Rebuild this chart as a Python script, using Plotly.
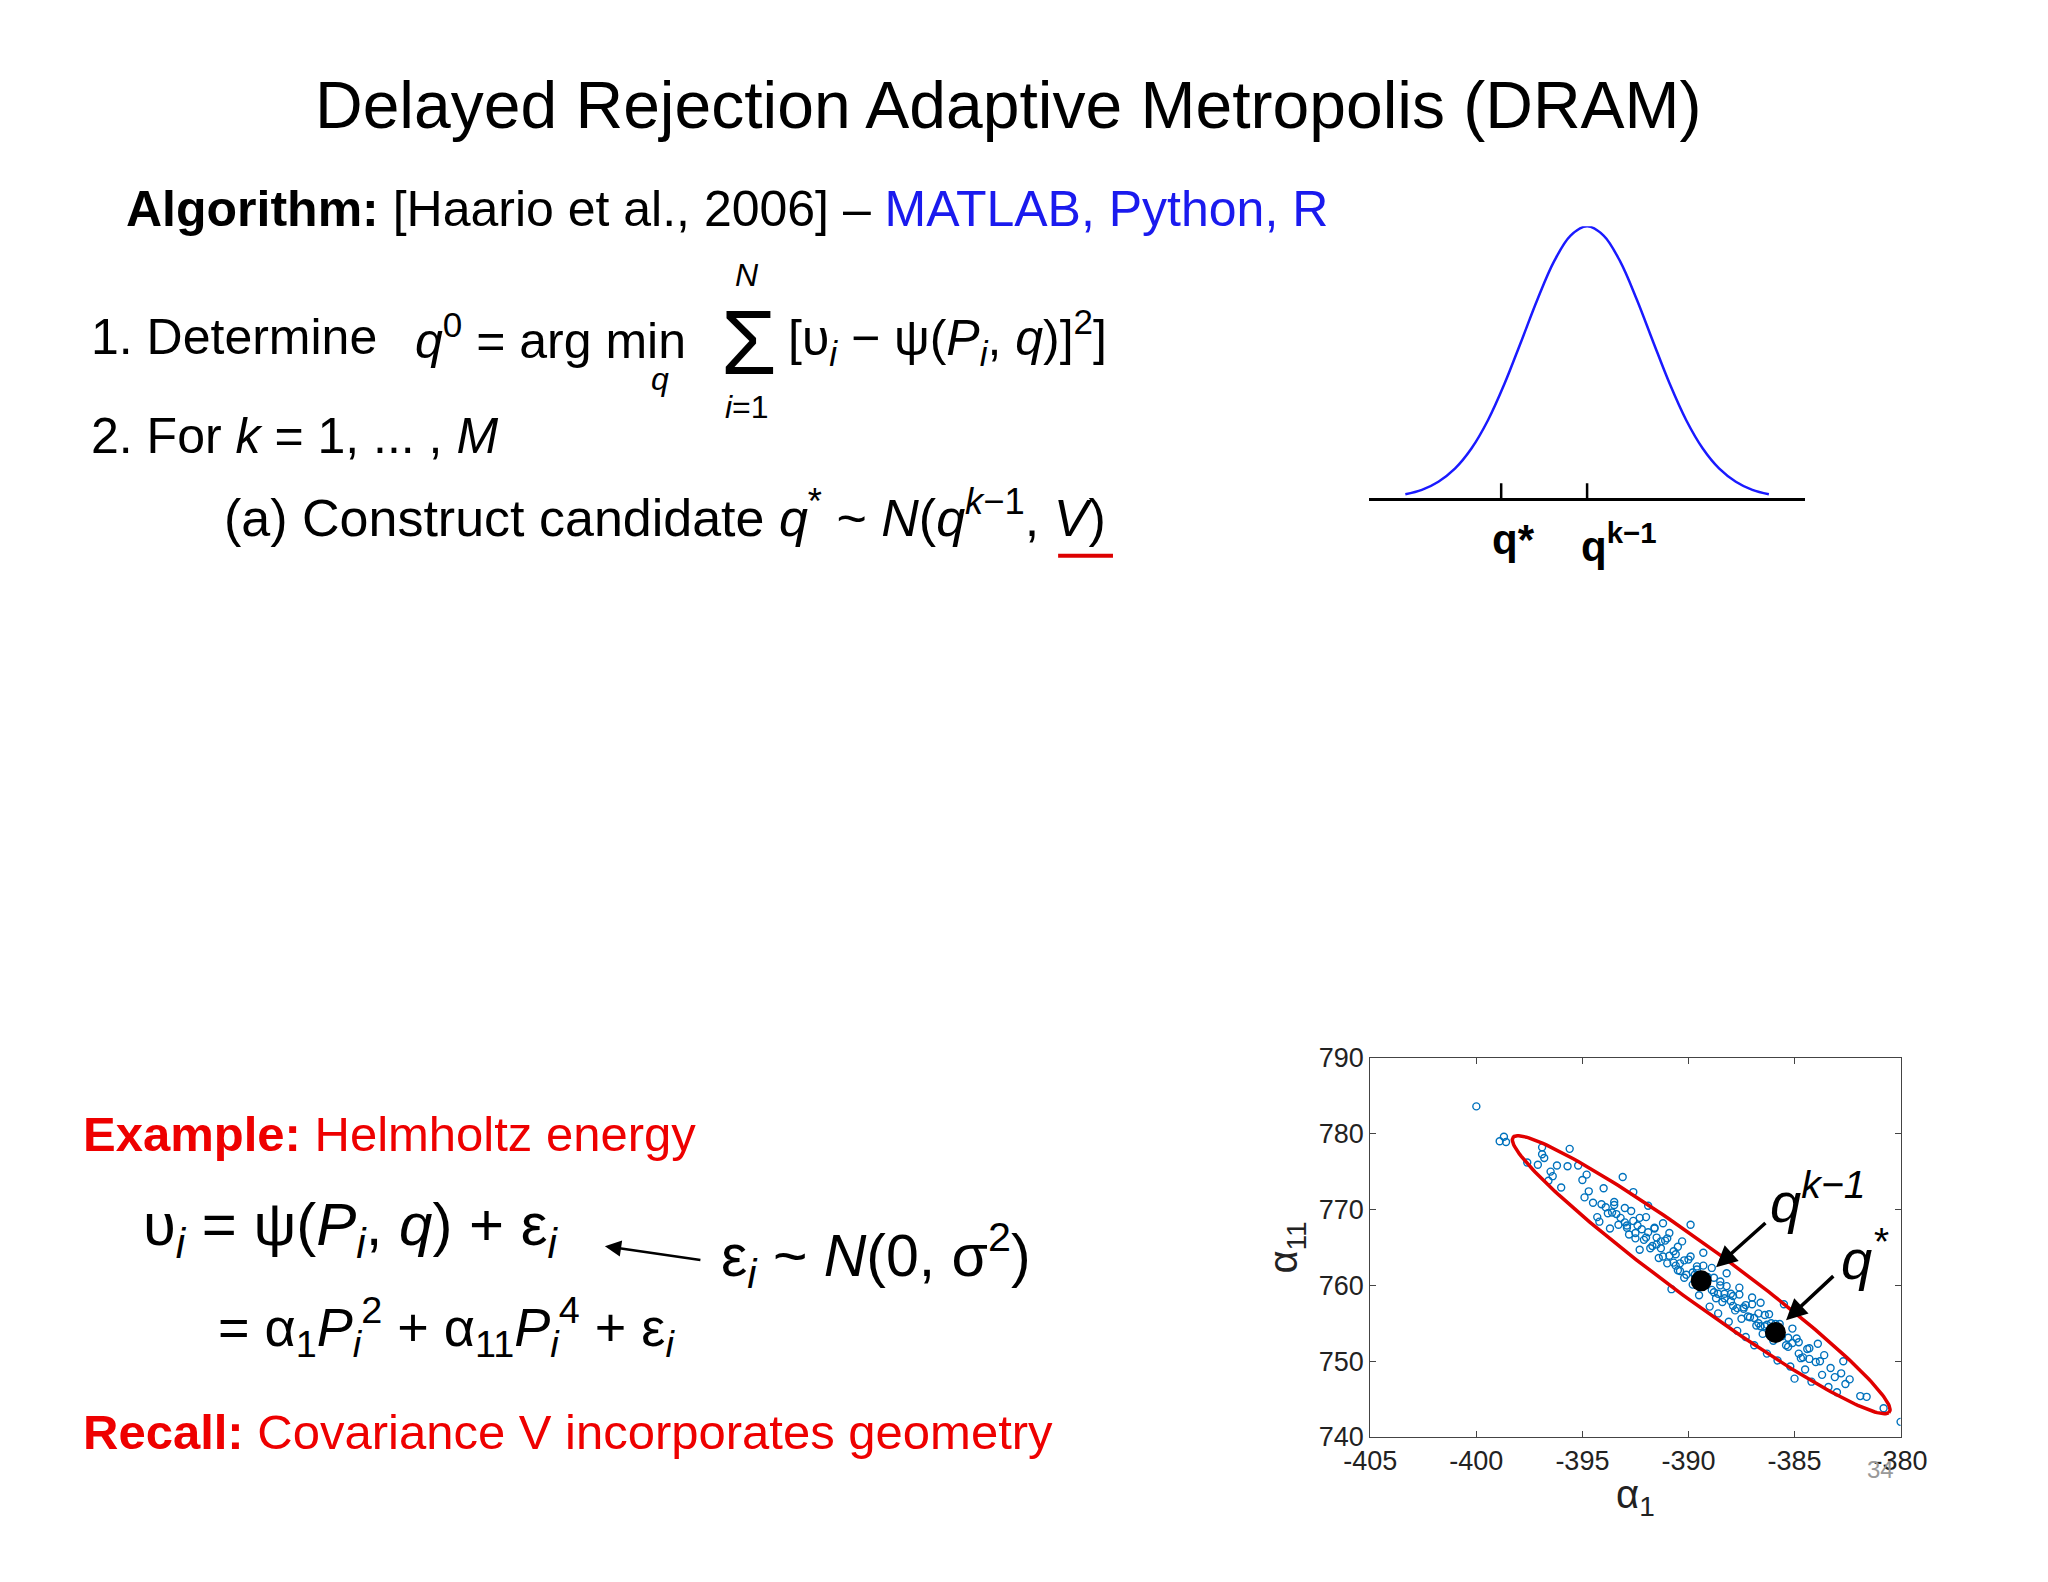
import numpy as np
import plotly.graph_objects as go

# ---- data ----
gauss_x = [-2.75,-2.5,-2.25,-2,-1.75,-1.5,-1.25,-1,-0.75,-0.5,-0.25,0,0.25,0.5,0.75,1,1.25,1.5,1.75,2,2.25,2.5,2.75]
gauss_y = [0.015,0.031,0.061,0.109,0.183,0.287,0.421,0.575,0.732,0.871,0.966,1.0,0.966,0.871,0.732,0.575,0.421,0.287,0.183,0.109,0.061,0.031,0.015]
gauss_ticks = [-1.30, 0.0]
gauss_tick_labels = ["q*", "q<sup>k−1</sup>"]

chain_a1 = [-400,-398.9,-398.7,-398.6,-397.6,-397.1,-396.9,-396.9,-396.8,-396.6,-396.5,-396.4,-396.2,-396.0,-395.7,-395.6,-395.2,-395.0,-394.9,-394.8,-394.7,-394.5,-394.3,-394.2,-394.0,-393.9,-393.7,-393.5,-393.4,-393.1,-393.0,-392.8,-392.7,-392.6,-392.4,-392.3,-392.1,-392.0,-391.9,-391.7,-391.6,-391.4,-391.2,-391.1,-391.0,-390.9,-390.8,-390.6,-390.5,-390.3,-390.2,-390.0,-389.9,-389.8,-389.6,-389.5,-389.3,-389.2,-389.0,-388.9,-388.8,-388.6,-388.5,-388.4,-388.2,-388.1,-388.0,-387.8,-387.7,-387.6,-387.4,-387.3,-387.1,-387.0,-386.9,-386.7,-386.6,-386.5,-386.3,-386.2,-386.0,-385.9,-385.8,-385.6,-385.5,-385.3,-385.2,-385.1,-385.0,-384.8,-384.7,-384.5,-384.3,-384.2,-384.0,-383.9,-383.7,-383.6,-383.4,-383.3,-383.1,-383.0,-382.8,-382.7,-382.6,-382.4,-381.9,-381.6,-380.8,-380.0,
            -391.5,-391.3,-390.7,-390.4,-389.7,-389.4,-388.7,-388.3,-387.9,-387.5,-386.8,-386.4,-393.2,-392.9,-392.5,-392.2,-394.1,-393.6,
            -393.8,-393.3,-392.9,-392.5,-392.0,-391.8,-391.5,-391.2,-390.9,-390.6,-390.4,-390.1,-389.8,-389.5,-389.2,-388.9,-388.6,-388.3,-388.0,-387.7,-387.4,-387.2,-386.9,-386.6,-386.3,-386.1,-385.8,-385.4,-385.1,-384.8,-384.6,-384.3,
            -393.5,-393.0,-392.6,-392.3,-391.9,-391.6,-391.3,-391.0,-390.7,-390.5,-390.2,-389.9,-389.6,-389.3,-389.1,-388.8,-388.5,-388.2,-387.9,-387.6,-387.3,-387.0,-386.7,-386.4,-386.1,-385.7,-385.3,-384.9,-384.4,-383.8]
chain_a11 = [783.6,779.0,779.6,778.9,776.2,775.9,778.2,777.3,776.8,773.8,775.0,774.4,775.8,772.9,775.7,778.0,775.8,773.9,771.6,774.6,772.4,770.9,769.0,768.4,772.8,770.3,767.5,771.0,769.4,774.3,768.3,766.7,769.8,772.3,767.9,764.7,766.0,769.0,770.5,765.2,767.5,763.6,768.2,765.9,762.9,766.9,759.5,764.1,762.0,765.8,761.0,763.4,768.0,760.1,762.5,758.7,764.3,760.9,757.2,762.3,759.1,756.3,760.5,757.8,761.6,755.2,758.9,756.7,754.0,759.7,757.1,753.2,755.8,758.4,752.1,755.0,757.7,753.6,751.0,756.2,752.7,754.9,750.1,753.3,757.5,751.9,749.3,754.3,747.7,752.5,750.4,748.9,751.7,747.3,749.9,752.3,748.2,750.8,746.6,749.1,747.9,745.9,748.4,750.0,747.0,747.6,745.4,745.3,743.8,742.0,
             766.3,764.9,763.0,761.9,761.4,760.2,758.3,758.9,757.3,755.6,754.7,754.6,768.9,767.9,766.9,767.4,770.7,769.6,
             769.5,768.0,767.6,766.2,766.3,764.9,765.4,763.8,763.9,762.6,762.9,761.4,761.7,760.3,760.5,759.4,758.9,758.3,757.9,757.0,756.9,755.9,755.7,754.6,754.8,753.9,753.4,752.1,752.4,751.0,750.5,750.3,
             770.6,770.2,768.5,768.9,767.0,767.6,765.8,766.2,764.5,765.1,763.3,763.8,762.1,762.6,761.1,761.0,760.0,759.9,758.6,758.8,757.4,757.5,756.3,756.1,755.0,754.9,753.1,753.0,751.6,750.0]
# confidence ellipse parameters (centre, major and minor half-axis vectors)
ell_center = (-389.4, 761.4)
ell_major = (8.84, -18.2)
ell_minor = (1.065, 2.245)
points_labels = ["q<sup>k−1</sup>", "q<sup>*</sup>"]
points_a1 = [-389.4, -385.9]
points_a11 = [760.6, 753.8]
x_ticks = [-405, -400, -395, -390, -385, -380]
x_tick_text = ["-405", "-400", "-395", "-390", "-385", "-380"]
y_ticks = [740, 750, 760, 770, 780, 790]

W, H = 1568, 1210
def px(X): return (X - 6) / W
def py(Y): return 1 - (Y - 6) / H

SANS = "Liberation Sans, Arial, sans-serif"
fig = go.Figure()

fig.add_trace(go.Scatter(x=gauss_x, y=gauss_y, mode="lines", line=dict(color="#1a1aff", width=2.5, shape="spline"),
                         xaxis="x2", yaxis="y2", showlegend=False, hoverinfo="skip"))
fig.add_trace(go.Scatter(x=chain_a1, y=chain_a11, mode="markers",
                         marker=dict(symbol="circle-open", size=7, color="#0072BD", line=dict(width=1.4)),
                         showlegend=False))
t = np.linspace(0, 2*np.pi, 200)
ex = ell_center[0] + ell_major[0]*np.cos(t) + ell_minor[0]*np.sin(t)
ey = ell_center[1] + ell_major[1]*np.cos(t) + ell_minor[1]*np.sin(t)
fig.add_trace(go.Scatter(x=ex, y=ey, mode="lines", line=dict(color="#e00000", width=3.5), showlegend=False))
fig.add_trace(go.Scatter(x=points_a1, y=points_a11, mode="markers",
                         marker=dict(size=21, color="black"), showlegend=False))

ann = []
def A(text, X, Y, size, color="black", xanchor="left", family=SANS, yanchor="middle"):
    ann.append(dict(text=text, x=px(X), y=py(Y), xref="paper", yref="paper", showarrow=False,
                    xanchor=xanchor, yanchor=yanchor, font=dict(size=size, color=color, family=family)))

A("Delayed Rejection Adaptive Metropolis (DRAM)", 772, 80, 66, xanchor="center")
A("<b>Algorithm:</b> [Haario et al., 2006] – <span style='color:#1a1aee'>MATLAB, Python, R</span>", 95, 160, 50)
A("1. Determine", 68, 258, 50)
A("<i>q</i><sup>0</sup> = arg min", 316, 258, 50)
A("<i>q</i>", 505, 290, 32, xanchor="center")
A("Σ", 573, 262, 90, xanchor="center")
A("<i>N</i>", 572, 210, 32, xanchor="center")
A("<i>i</i>=1", 572, 311, 32, xanchor="center")
A("[υ<sub><i>i</i></sub> − ψ(<i>P<sub>i</sub></i>, <i>q</i>)]<sup>2</sup>]", 602, 258, 50)
A("2. For <i>k</i> = 1, ... , <i>M</i>", 68, 333, 50)
A("(a) Construct candidate <i>q</i><sup>*</sup> ~ <i>N</i>(<i>q</i><sup><i>k</i>−1</sup>, <i>V</i>)", 170, 393, 52)
A("<b>Example:</b> Helmholtz energy", 62, 867, 49, color="#ee0000")
A("υ<sub><i>i</i></sub> = ψ(<i>P<sub>i</sub></i>, <i>q</i>) + ε<sub><i>i</i></sub>", 108, 940, 60)
A("ε<sub><i>i</i></sub> ~ <i>N</i>(0, σ<sup>2</sup>)", 550, 960, 59)
A("= α<sub>1</sub><i>P</i><sub><i>i</i></sub><sup>2</sup> + α<sub>11</sub><i>P</i><sub><i>i</i></sub><sup>4</sup> + ε<sub><i>i</i></sub>", 165, 1015, 54)
A("<b>Recall:</b> Covariance V incorporates geometry", 62, 1095, 49, color="#ee0000")
A("34", 1440, 1124, 24, color="#999999", xanchor="center")

ann.append(dict(x=px(463), y=py(953), ax=97, ay=14, xref="paper", yref="paper",
                axref="pixel", ayref="pixel", text="", showarrow=True, arrowhead=2, arrowsize=1.3,
                arrowwidth=2.5, arrowcolor="black"))

# gaussian tick labels (x from axis, y in paper)
for tv, lab, sh in zip(gauss_ticks, gauss_tick_labels, [12, 32]):
    ann.append(dict(text="<b>" + lab + "</b>", x=tv, y=py(393), xref="x2", yref="paper", showarrow=False,
                    xshift=sh, xanchor="center", yanchor="top", font=dict(size=42, family=SANS, color="black")))

lab_pos = [(-383.9, 771.5), (-381.7, 764.0)]
arr = [((-386.3, 768.4), (-388.7, 762.4)), ((-383.1, 761.4), (-385.4, 755.4))]
for lab, (lx, ly), (a0, a1) in zip(points_labels, lab_pos, arr):
    ann.append(dict(text="<i>" + lab.replace("k", "<i>k</i>") + "</i>", x=lx, y=ly, xref="x", yref="y",
                    showarrow=False, font=dict(size=56, family=SANS, color="black")))
    ann.append(dict(x=a1[0], y=a1[1], ax=a0[0], ay=a0[1], xref="x", yref="y", axref="x", ayref="y",
                    text="", showarrow=True, arrowhead=2, arrowsize=1.2, arrowwidth=3.5, arrowcolor="black"))

shapes = [
    dict(type="line", xref="paper", yref="paper", x0=px(810), x1=px(852), y0=py(425), y1=py(425),
         line=dict(color="#dd0000", width=4)),
]
for tv in gauss_ticks:
    shapes.append(dict(type="line", xref="x2", yref="y2", x0=tv, x1=tv, y0=-0.055, y1=0.055,
                       line=dict(color="black", width=2.5)))

fig.update_layout(
    width=2048, height=1582, margin=dict(l=0, r=0, t=0, b=0, autoexpand=False),
    paper_bgcolor="white", plot_bgcolor="white",
    annotations=ann, shapes=shapes,
    xaxis=dict(domain=[px(1049), px(1455)], range=[-405, -380], tickvals=x_ticks, ticktext=x_tick_text,
               ticks="inside", ticklen=6, mirror="ticks", showline=True, linecolor="#444", showgrid=False,
               zeroline=False, automargin=False, tickfont=dict(size=27, family=SANS, color="#222"),
               title=dict(text="α<sub>1</sub>", font=dict(size=40, family=SANS, color="#222"), standoff=4)),
    yaxis=dict(domain=[py(1099), py(809)], range=[740, 790], tickvals=y_ticks,
               ticks="inside", ticklen=6, mirror="ticks", showline=True, linecolor="#444", showgrid=False,
               zeroline=False, automargin=False, tickfont=dict(size=27, family=SANS, color="#222"),
               title=dict(text="α<sub>11</sub>", font=dict(size=40, family=SANS, color="#222"), standoff=8)),
    xaxis2=dict(domain=[px(1048), px(1382)], range=[-3.3, 3.3], anchor="y2", showline=True, automargin=False,
                linecolor="black", linewidth=2.5, showticklabels=False, ticks="", showgrid=False, zeroline=False),
    yaxis2=dict(domain=[py(381), py(173)], range=[0, 1], anchor="x2", visible=False),
)
fig.write_html("out.html")
